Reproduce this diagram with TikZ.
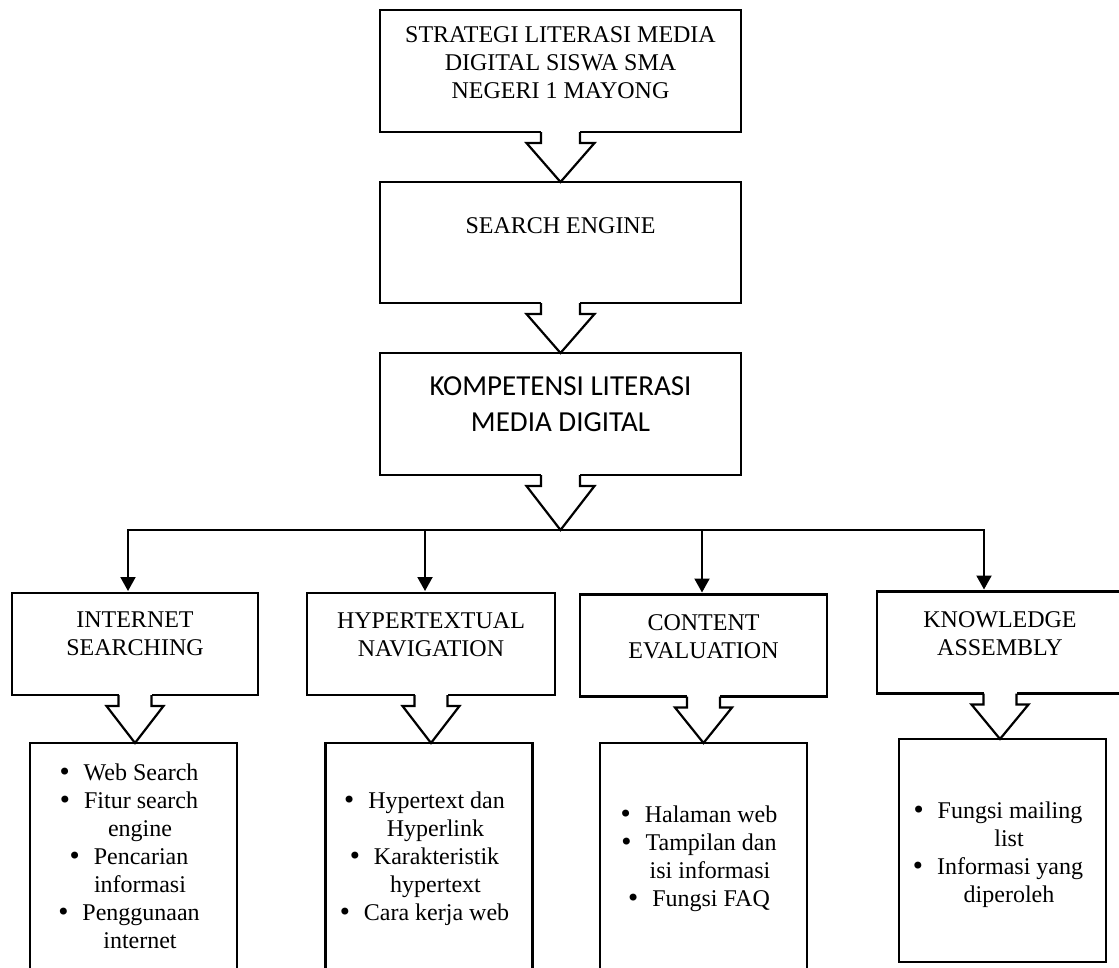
\documentclass[tikz,border=0pt]{standalone}
\usepackage{fontspec}
\setmainfont{Liberation Serif}
\newfontfamily\calibri{Carlito}
\newfontfamily\dejavu{DejaVu Sans}
\usetikzlibrary{arrows.meta, positioning, calc}

% butir daftar dan baris lanjutan
\newcommand{\itm}{{\dejavu\textbullet}\hspace{12pt}}
\newcommand{\cont}{\hspace*{24pt}}

% panah blok berongga: #1 asal, #2 tujuan, #3 setengah batang, #4 setengah kepala, #5 panjang batang
\newcommand{\fatarrow}[5]{%
  \fill[white] ([xshift=-#3pt, yshift=2pt]#1.south) rectangle ([xshift=#3pt, yshift=-#5pt]#1.south);
  \draw[fat] ([xshift=-#3pt]#1.south) -- ([xshift=-#3pt, yshift=-#5pt]#1.south)
    -- ([xshift=-#4pt, yshift=-#5pt]#1.south) -- (#1.south |- #2.north)
    -- ([xshift=#4pt, yshift=-#5pt]#1.south) -- ([xshift=#3pt, yshift=-#5pt]#1.south)
    -- ([xshift=#3pt]#1.south);
}

\begin{document}
\begin{tikzpicture}[x=1pt, y=-1pt,
    box/.style={draw, line width=2.2pt, outer sep=0pt, inner sep=0pt},
    txt/.style={font=\fontsize{24}{28}\selectfont, align=center, inner sep=0pt, anchor=north},
    fat/.style={line width=2.2pt, line join=miter},
    conn/.style={line width=2pt, -{Triangle[length=14pt, width=15pt]}, shorten >=2pt}
]
\useasboundingbox (0,0) rectangle (1119,967);
\clip (0,0) rectangle (1119,967);

% tiga kotak atas
\node[box, minimum width=361pt, minimum height=122pt] (strat) at (560.5,71) {};
\node[box, minimum width=361pt, minimum height=121pt] (search) at (560.5,242.5) {};
\node[box, minimum width=361pt, minimum height=122pt] (komp) at (560.5,414) {};
\node[txt] (stratT) at (560.5,26) {STRATEGI LITERASI MEDIA\\DIGITAL SISWA SMA\\NEGERI 1 MAYONG};
\node[txt] (searchT) at (560.5,217) {SEARCH ENGINE};
\node[txt, font=\calibri\fontsize{29}{36}\selectfont] (kompT) at (560.5,376) {KOMPETENSI LITERASI\\MEDIA DIGITAL};
\node[inner sep=0pt, outer sep=0pt, minimum size=0pt] (bus) at (560.5,530) {};

% kompetensi
\foreach \n/\x/\y/\w in {inet/135/644/246, hyper/431/644/248, content/703.5/645.5/247, know/1000/642.5/246}
  \node[box, minimum width=\w pt, minimum height=102pt] (\n) at (\x,\y) {};
\node[txt] (inetT) at (135,612) {INTERNET\\SEARCHING};
\node[txt] (hyperT) at (431,612) {HYPERTEXTUAL\\NAVIGATION};
\node[txt] (contentT) at (703.5,614) {CONTENT\\EVALUATION};
\node[txt] (knowT) at (1000,611) {KNOWLEDGE\\ASSEMBLY};

% rincian
\foreach \n/\x/\y/\h in {inetL/133.5/866.5/247, hyperL/429/866.5/247, contentL/703.5/866.5/247, knowL/1002.5/850.5/223}
  \node[box, minimum width=207pt, minimum height=\h pt] (\n) at (\x,\y) {};
\node[txt] (inetLT) at (128,764) {\itm Web Search\\\itm Fitur search\\\cont engine\\\itm Pencarian\\\cont informasi\\\itm Penggunaan\\\cont internet};
\node[txt] (hyperLT) at (423.5,792) {\itm Hypertext dan\\\cont Hyperlink\\\itm Karakteristik\\\cont hypertext\\\itm Cara kerja web};
\node[txt] (contentLT) at (698,806) {\itm Halaman web\\\itm Tampilan dan\\\cont isi informasi\\\itm Fungsi FAQ};
\node[txt] (knowLT) at (997,802) {\itm Fungsi mailing\\\cont list\\\itm Informasi yang\\\cont diperoleh};

% panah
\fatarrow{strat}{search}{19.5}{34}{11}
\fatarrow{search}{komp}{19.5}{34}{11}
\fatarrow{komp}{bus}{19.5}{34}{11}
\foreach \b/\dx in {inet/-7, hyper/-6, content/-1.5, know/-16}
  \draw[conn] (bus.center) -| ([xshift=\dx pt]\b.north);
\foreach \a/\b in {inet/inetL, hyper/hyperL, content/contentL, know/knowL}
  {\fatarrow{\a}{\b}{16.5}{28.5}{11}}
\end{tikzpicture}
\end{document}
